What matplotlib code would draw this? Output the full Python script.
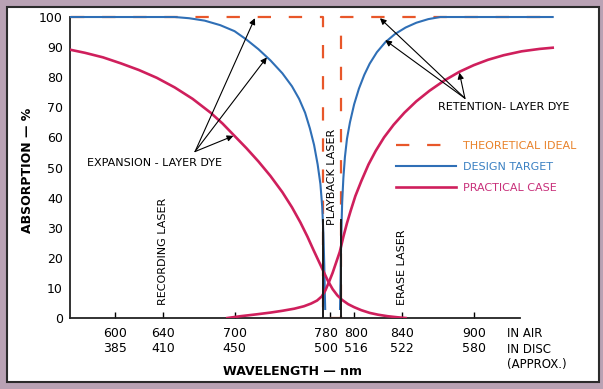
import matplotlib
matplotlib.use("Agg")
import matplotlib.pyplot as plt
import matplotlib.transforms as mtransforms
from matplotlib.patches import Rectangle

# wavelength in air (nm) / absorption (%)
exp_design_nm = [563, 650, 662, 675, 688, 700, 710, 720, 730, 740, 748, 754, 759, 763, 766.5,
                 769.5, 771.8, 773.3, 774.3, 775, 775.5, 775.8]
exp_design = [100, 100, 99.6, 98.8, 97.3, 95.3, 92.5, 89.3, 85.6, 81.3, 77, 72.8, 68.2, 63, 57.5,
              51, 44.5, 37, 28, 18, 8, 3]

ret_design_nm = [788.2, 788.5, 788.9, 789.4, 790, 791, 792.3, 794, 796.5, 800, 804, 808.5, 813,
                 819, 826, 834, 843, 852, 862, 872, 966]
ret_design = [3, 10, 20, 30, 38.5, 46.5, 53.5, 59.5, 65, 71, 76.2, 80.8, 84.5,
              88.3, 91.6, 94.3, 96.5, 98.1, 99.3, 100, 100]

exp_practical_nm = [563, 575, 590, 605, 620, 635, 650, 665, 680, 690, 700, 710, 720, 730, 740,
                    748, 755, 761, 766, 770, 774, 778, 782, 786, 790, 795, 800, 806, 813, 820,
                    828, 836, 843]
exp_practical = [89.1, 88.1, 86.6, 84.6, 82.4, 79.8, 76.6, 72.8, 68.2, 64.6, 60.5, 56.4, 52, 47.2, 41.8,
                 36.8, 31.8, 27, 22.6, 19.2, 15.8, 12.4, 9.6, 7.5, 6, 4.6, 3.6, 2.6, 1.7, 1.1,
                 0.6, 0.25, 0]

ret_practical_nm = [694, 705, 718, 730, 740, 750, 758, 764, 769, 773, 776, 779, 782, 785, 788,
                    791, 794, 797, 801, 806, 812, 818, 825, 833, 842, 852, 863, 875, 888, 900,
                    912, 925, 940, 955, 966]
ret_practical = [0, 0.6, 1.2, 1.8, 2.4, 3.1, 3.9, 4.8, 5.8, 7.2, 9.2, 12, 15, 18.5, 22,
                 27, 31.5, 35.5, 40.5, 45.5, 51, 55.5, 60, 64.2, 68.2, 72, 75.5, 78.8, 81.8, 84,
                 85.8, 87.3, 88.6, 89.4, 89.8]

ideal_nm = [563, 774, 774, 789, 789, 966]
ideal = [100, 100, 0, 0, 100, 100]

playback_nm = [774, 789]

tick_air = [600, 640, 700, 780, 800, 840, 900]
tick_disc = [385, 410, 450, 500, 516, 522, 580]

c_ideal = "#e8572a"
c_design = "#2f6fb6"
c_practical = "#cf1f5c"

fig = plt.figure(figsize=(6.03, 3.89), dpi=100, facecolor="#b9a2b4")
fig.patches.append(Rectangle((0.0116, 0.018), 0.982, 0.964, transform=fig.transFigure,
                             facecolor="white", edgecolor="#2b2b2b", lw=1.5, zorder=-5))
ax = fig.add_axes([0.116, 0.1825, 0.8085, 0.7815])
ax.set_facecolor("white")

ax.plot(ideal_nm, ideal, color=c_ideal, lw=1.6, dashes=(6, 8), zorder=2, label="THEORETICAL IDEAL")
ax.plot(exp_design_nm, exp_design, color=c_design, lw=1.5, zorder=3, label="DESIGN TARGET")
ax.plot(ret_design_nm, ret_design, color=c_design, lw=1.5, zorder=3)
ax.plot(exp_practical_nm, exp_practical, color=c_practical, lw=1.9, zorder=4, label="PRACTICAL CASE")
ax.plot(ret_practical_nm, ret_practical, color=c_practical, lw=1.9, zorder=4)
ax.vlines(playback_nm, 0, 33, color="#1a1a1a", lw=1.4, zorder=5)

ax.set_xlim(562.4, 970)
ax.set_ylim(0, 101)
for s in ["top", "right"]:
    ax.spines[s].set_visible(False)
ax.spines["bottom"].set_bounds(562.4, 939)
ax.spines["left"].set_bounds(0, 100)
for s in ["bottom", "left"]:
    ax.spines[s].set_linewidth(1.3)
    ax.spines[s].set_color("#222222")

ax.set_yticks(range(0, 101, 10))
ax.set_xticks(tick_air)
ax.set_xticklabels([f"{a}\n{d}" for a, d in zip(tick_air, tick_disc)])
ax.tick_params(axis="x", direction="in", length=4, width=1, pad=6.5, labelsize=9)
ax.tick_params(axis="y", length=0, pad=5, labelsize=9)

# 780 and 800 sit close together, nudge them apart a little
labels = ax.get_xticklabels()
for lab, dx in [(labels[3], -4), (labels[4], 2)]:
    lab.set_transform(lab.get_transform() + mtransforms.ScaledTranslation(dx / 100, 0, fig.dpi_scale_trans))

ax.text(928, -3, "IN AIR\nIN DISC\n(APPROX.)", fontsize=8.5, ha="left", va="top",
        linespacing=1.25, clip_on=False)

ax.set_ylabel("ABSORPTION — %", fontsize=9, fontweight="bold")
ax.yaxis.set_label_coords(-0.074, 0.487)
ax.set_xlabel("WAVELENGTH — nm", fontsize=9, fontweight="bold")
ax.xaxis.set_label_coords(0.457, -0.154)

# laser labels
ax.text(640, 4.3, "RECORDING LASER", rotation=90, fontsize=8, ha="center", va="bottom")
ax.text(781.5, 31, "PLAYBACK LASER", rotation=90, fontsize=8, ha="center", va="bottom")
ax.text(840, 4.4, "ERASE LASER", rotation=90, fontsize=8, ha="center", va="bottom")

# dye annotations
arrow = dict(arrowstyle="-|>", color="black", lw=0.8, mutation_scale=9, shrinkA=0, shrinkB=0)
ax.text(633, 51.5, "EXPANSION - LAYER DYE", fontsize=8, ha="center", va="center")
for head in [(717, 99.6), (727, 86.6), (699, 60.5)]:
    ax.annotate("", xy=head, xytext=(667, 55.3), arrowprops=arrow, zorder=6)
ax.text(925, 70, "RETENTION- LAYER DYE", fontsize=8, ha="center", va="center")
for head in [(821.6, 99.6), (826, 92.3), (888, 81.5)]:
    ax.annotate("", xy=head, xytext=(892.6, 73), arrowprops=arrow, zorder=6)

leg = ax.legend(loc="upper left", bbox_to_anchor=(0.648, 0.615), frameon=False, fontsize=8,
                handlelength=5.4, handletextpad=0.6, labelspacing=1.0, labelcolor="linecolor")
leg.get_texts()[0].set_color("#e8822a")
leg.get_texts()[1].set_color("#3a80c2")
leg.get_texts()[2].set_color("#c8307a")

fig.savefig("out.png", dpi=100, facecolor=fig.get_facecolor())
